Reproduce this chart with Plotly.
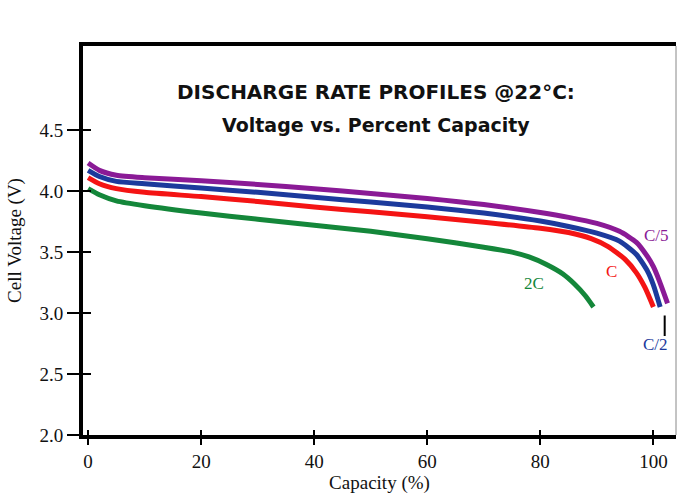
import plotly.graph_objects as go

# ---- data ----
x_c5 = [0, 2, 5, 10, 20, 30, 40, 50, 60, 70, 80, 85, 90, 94, 97, 99, 100, 101, 102.5]
v_c5 = [4.23, 4.17, 4.13, 4.11, 4.085, 4.055, 4.02, 3.98, 3.94, 3.89, 3.825, 3.785, 3.735, 3.67, 3.58, 3.46, 3.38, 3.27, 3.08]

x_c2 = [0, 2, 5, 10, 20, 30, 40, 50, 60, 70, 80, 85, 90, 94, 97, 99, 100, 101.2]
v_c2 = [4.17, 4.12, 4.08, 4.06, 4.025, 3.99, 3.95, 3.91, 3.87, 3.82, 3.755, 3.71, 3.655, 3.59, 3.48, 3.34, 3.23, 3.05]

x_c1 = [0, 2, 5, 10, 20, 30, 40, 50, 60, 70, 80, 85, 89, 92, 95, 97, 98.5, 100]
v_c1 = [4.11, 4.06, 4.02, 3.99, 3.955, 3.915, 3.87, 3.83, 3.79, 3.745, 3.695, 3.66, 3.61, 3.545, 3.44, 3.33, 3.21, 3.05]

x_2c = [0, 2, 5, 10, 20, 30, 40, 50, 60, 70, 75, 78, 81, 84, 86, 88, 89.4]
v_2c = [4.02, 3.97, 3.92, 3.88, 3.82, 3.77, 3.72, 3.67, 3.61, 3.54, 3.50, 3.46, 3.40, 3.32, 3.24, 3.14, 3.05]

x_ticks = [0, 20, 40, 60, 80, 100]
y_ticks = [2.0, 2.5, 3.0, 3.5, 4.0, 4.5]
y_tick_text = ["2.0", "2.5", "3.0", "3.5", "4.0", "4.5"]

series = [
    ("C/5", x_c5, v_c5, "#8a1a96"),
    ("C/2", x_c2, v_c2, "#1c3a9c"),
    ("C", x_c1, v_c1, "#f41414"),
    ("2C", x_2c, v_2c, "#14873a"),
]

labels = [
    ("C/5", 100.6, 3.64, "#8a1a96"),
    ("C", 92.6, 3.34, "#f41414"),
    ("2C", 78.8, 3.24, "#14873a"),
    ("C/2", 100.4, 2.74, "#1c3a9c"),
]

XR = [-0.9, 104.0]
YR = [2.0, 5.19]

fig = go.Figure()
for name, xs, vs, col in series:
    fig.add_trace(go.Scatter(x=xs, y=vs, mode="lines", name=name,
                             line=dict(color=col, width=5, shape="spline", smoothing=0.6),
                             showlegend=False, hoverinfo="skip"))

serif = "Liberation Serif"
fig.update_layout(
    width=678, height=495,
    margin=dict(l=83, r=2, t=46, b=60),
    paper_bgcolor="white", plot_bgcolor="white",
    showlegend=False,
    xaxis=dict(range=XR, tickvals=x_ticks, showgrid=False, zeroline=False,
               showline=True, linecolor="black", linewidth=4, mirror=True,
               ticks="outside", ticklen=6, tickwidth=2, tickcolor="black",
               tickfont=dict(family=serif, size=19, color="#111111"),
               title=dict(text="Capacity (%)", font=dict(family=serif, size=19, color="#111111"),
                          standoff=0)),
    yaxis=dict(range=YR, tickvals=y_ticks, ticktext=y_tick_text, showgrid=False, zeroline=False,
               showline=True, linecolor="black", linewidth=4,
               ticks="outside", ticklen=12, tickwidth=2, tickcolor="black",
               tickfont=dict(family=serif, size=19, color="#111111"),
               title=dict(text="Cell Voltage (V)", font=dict(family=serif, size=19, color="#111111"),
                          standoff=14)),
    xaxis2=dict(range=XR, tickvals=x_ticks, overlaying="x", side="bottom", showgrid=False,
                zeroline=False, showticklabels=False, ticks="inside", ticklen=5, tickwidth=2,
                tickcolor="black"),
    yaxis2=dict(range=YR, tickvals=y_ticks, overlaying="y", side="left", showgrid=False,
                zeroline=False, showticklabels=False, ticks="inside", ticklen=8, tickwidth=2,
                tickcolor="black"),
)
fig.add_trace(go.Scatter(x=[None], y=[None], xaxis="x2", yaxis="y2", showlegend=False))

fig.add_shape(type="line", xref="paper", yref="paper", x0=1, x1=1, y0=0, y1=1,
              line=dict(color="#888888", width=1))

title_font = "DejaVu Sans"
fig.add_annotation(xref="paper", yref="paper", x=0.494, y=0.918, showarrow=False,
                   text="<b>DISCHARGE RATE PROFILES @22°C:</b>",
                   font=dict(family=title_font, size=20, color="#111111"))
fig.add_annotation(xref="paper", yref="paper", x=0.494, y=0.830, showarrow=False,
                   text="<b>Voltage vs. Percent Capacity</b>",
                   font=dict(family=title_font, size=19, color="#111111"))

for txt, lx, ly, col in labels:
    fig.add_annotation(x=lx, y=ly, text=txt, showarrow=False,
                       font=dict(family=serif, size=17, color=col))

fig.add_annotation(x=102.0, y=2.98, text="", showarrow=True, arrowhead=0, arrowwidth=2,
                   arrowcolor="black", ax=0, ay=22)

fig.write_html("out.html", config={"displayModeBar": False},
               post_script="document.body.style.margin='0px';")
